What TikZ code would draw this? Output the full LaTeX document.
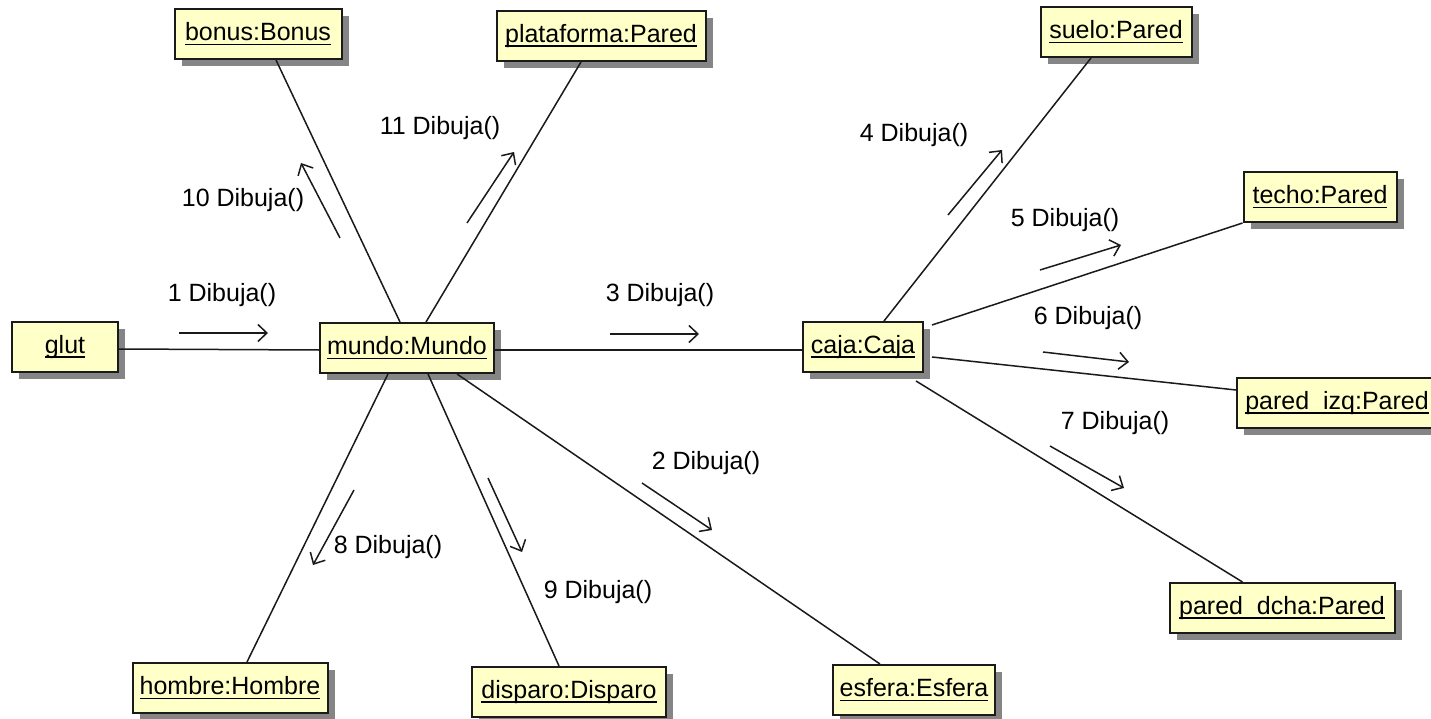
\documentclass[tikz,border=0pt]{standalone}
\usepackage{fontspec}
\setmainfont{Liberation Sans}
\usetikzlibrary{shadows,arrows.meta}
\definecolor{objfill}{HTML}{FFFFC8}
\definecolor{shadowgray}{HTML}{858585}
\definecolor{inkline}{HTML}{1A1A1A}
% underlined object name with a firm rule
\newcommand\objname[1]{\setbox0=\hbox{#1}\rlap{\rule[-4.5pt]{\wd0}{1.8pt}}\box0}

\begin{document}
\begin{tikzpicture}[x=1pt,y=-1pt,
  obj/.style={draw=inkline, line width=2pt, fill=objfill, minimum height=50pt,
    inner sep=0pt, font=\fontsize{25}{28}\selectfont,
    drop shadow={shadow xshift=7pt, shadow yshift=-7pt, fill=shadowgray, opacity=1}},
  link/.style={draw=inkline, line width=1.5pt},
  msg/.style={draw=inkline, line width=1.5pt,
    -{Straight Barb[length=9pt,width=17pt,line width=1.5pt]}},
  lbl/.style={font=\fontsize{25}{28}\selectfont, inner sep=0pt}]

\fill[white] (0,0) rectangle (1431,719);
\useasboundingbox (0,0) rectangle (1431,719);

% objects
\node[obj, minimum width=106pt] (glut)       at (65,347)   {\objname{glut}};
\node[obj, minimum width=174pt] (mundo)      at (407,348)  {\objname{mundo:Mundo}};
\node[obj, minimum width=120pt] (caja)       at (863,347)  {\objname{caja:Caja}};
\node[obj, minimum width=167pt] (bonus)      at (258,34)   {\objname{bonus:Bonus}};
\node[obj, minimum width=209pt] (plataforma) at (601,36)   {\objname{plataforma:Pared}};
\node[obj, minimum width=151pt] (suelo)      at (1116,32)  {\objname{suelo:Pared}};
\node[obj, minimum width=153pt] (techo)      at (1320,197) {\objname{techo:Pared}};
\node[obj, minimum width=200pt] (paredizq)   at (1337,403) {\objname{pared\_izq:Pared}};
\node[obj, minimum width=225pt] (pareddcha)  at (1282,608) {\objname{pared\_dcha:Pared}};
\node[obj, minimum width=195pt] (hombre)     at (230,688)  {\objname{hombre:Hombre}};
\node[obj, minimum width=194pt] (disparo)    at (569,692)  {\objname{disparo:Disparo}};
\node[obj, minimum width=162pt] (esfera)     at (914,690)  {\objname{esfera:Esfera}};

% links
\begin{scope}[on background layer/.style={}]
\draw[link] ([yshift=-2pt]glut.east) -- ([yshift=-2pt]mundo.west);
\draw[link] ([yshift=-2pt]mundo.east) -- ([yshift=-3pt]caja.west);
\draw[link] ([xshift=-7pt]mundo.north) -- ([xshift=18pt]bonus.south);
\draw[link] ([xshift=19pt]mundo.north) -- ([xshift=-20pt]plataforma.south);
\draw[link] ([xshift=-19pt]mundo.south) -- ([xshift=17pt]hombre.north);
\draw[link] ([xshift=21pt]mundo.south) -- ([xshift=-10pt]disparo.north);
\draw[link] ([xshift=50pt]mundo.south) -- ([xshift=-34pt]esfera.north);
\draw[link] ([xshift=21pt]caja.north) -- ([xshift=-25pt]suelo.south);
\draw[link] ([xshift=8pt,yshift=-4pt]caja.north east) -- (techo.south west);
\draw[link] ([xshift=8pt,yshift=-10pt]caja.east) -- ([yshift=13pt]paredizq.west);
\draw[link] ([xshift=-8pt,yshift=-8pt]caja.south east) -- ([xshift=74pt]pareddcha.north west);
\end{scope}

% message arrows
\coordinate (m1a) at (179,333);  \coordinate (m1b) at (268,333);
\coordinate (m3a) at (610,334);  \coordinate (m3b) at (699,334);
\coordinate (m10a) at (340,238); \coordinate (m10b) at (301,163);
\coordinate (m11a) at (467,223); \coordinate (m11b) at (514,152);
\coordinate (m4a) at (948,215);  \coordinate (m4b) at (1002,150);
\coordinate (m5a) at (1040,270); \coordinate (m5b) at (1121,245);
\coordinate (m6a) at (1043,352); \coordinate (m6b) at (1129,362);
\coordinate (m7a) at (1050,446); \coordinate (m7b) at (1124,488);
\coordinate (m2a) at (642,483);  \coordinate (m2b) at (712,530);
\coordinate (m8a) at (354,490);  \coordinate (m8b) at (313,565);
\coordinate (m9a) at (488,478);  \coordinate (m9b) at (522,552);
\foreach \m in {1,2,3,4,5,6,7,8,9,10,11}
  \draw[msg] (m\m a) -- (m\m b);

% message labels
\node[lbl] (l1)  at (222,295)  {1 Dibuja()};
\node[lbl] (l3)  at (660,295)  {3 Dibuja()};
\node[lbl] (l10) at (243,200)  {10 Dibuja()};
\node[lbl] (l11) at (440,128)  {11 Dibuja()};
\node[lbl] (l4)  at (914,135)  {4 Dibuja()};
\node[lbl] (l5)  at (1065,220) {5 Dibuja()};
\node[lbl] (l6)  at (1088,318) {6 Dibuja()};
\node[lbl] (l7)  at (1115,423) {7 Dibuja()};
\node[lbl] (l2)  at (706,463)  {2 Dibuja()};
\node[lbl] (l8)  at (388,547)  {8 Dibuja()};
\node[lbl] (l9)  at (598,592)  {9 Dibuja()};
\end{tikzpicture}
\end{document}
